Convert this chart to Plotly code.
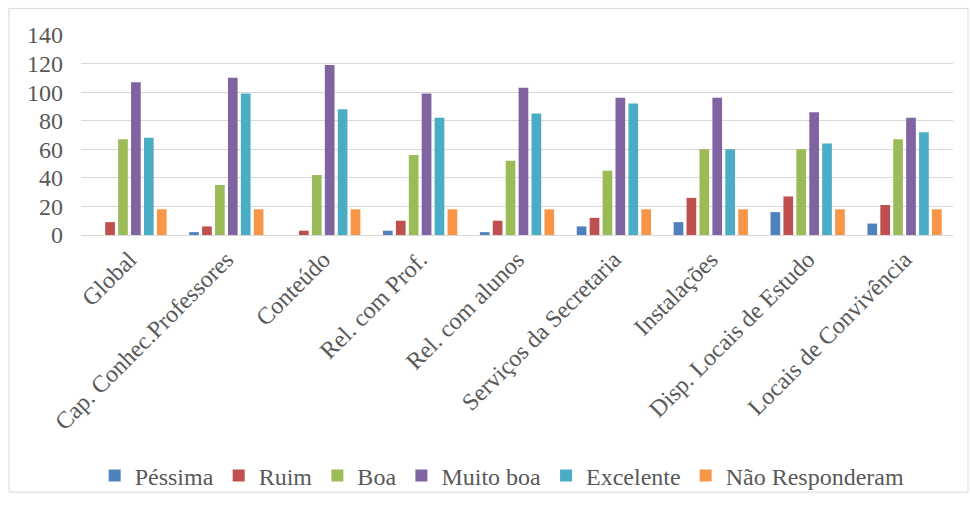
import plotly.graph_objects as go

# Avaliação por item: número de respostas em cada conceito
categorias = [
    "Global",
    "Cap. Conhec.Professores",
    "Conteúdo",
    "Rel. com Prof.",
    "Rel. com alunos",
    "Serviços da Secretaria",
    "Instalações",
    "Disp. Locais de Estudo",
    "Locais de Convivência",
]

pessima = [0, 2, 0, 3, 2, 6, 9, 16, 8]
ruim = [9, 6, 3, 10, 10, 12, 26, 27, 21]
boa = [67, 35, 42, 56, 52, 45, 60, 60, 67]
muito_boa = [107, 110, 119, 99, 103, 96, 96, 86, 82]
excelente = [68, 99, 88, 82, 85, 92, 60, 64, 72]
nao_responderam = [18, 18, 18, 18, 18, 18, 18, 18, 18]

y_ticks = [0, 20, 40, 60, 80, 100, 120, 140]

series = [
    ("Péssima", pessima, "#4F81BD"),
    ("Ruim", ruim, "#C0504D"),
    ("Boa", boa, "#9BBB59"),
    ("Muito boa", muito_boa, "#8064A2"),
    ("Excelente", excelente, "#4BACC6"),
    ("Não Responderam", nao_responderam, "#F79646"),
]

FONT = "'Liberation Serif', 'Times New Roman', serif"
TEXT = "#595959"

fig = go.Figure()
for nome, valores, cor in series:
    fig.add_trace(go.Bar(
        name=nome,
        x=categorias,
        y=valores,
        marker=dict(color=cor, line=dict(width=0)),
    ))

fig.update_layout(
    width=970,
    height=510,
    margin=dict(l=81, r=17, t=35, b=272),
    paper_bgcolor="white",
    plot_bgcolor="white",
    barmode="group",
    bargap=0.2,
    bargroupgap=0.25,
    font=dict(family=FONT, color=TEXT, size=24),
    legend=dict(
        orientation="h",
        x=0.483,
        xanchor="center",
        y=-1.205,
        yanchor="middle",
        bgcolor="rgba(0,0,0,0)",
        font=dict(family=FONT, size=24, color=TEXT),
        itemwidth=30,
        traceorder="normal",
    ),
    xaxis=dict(
        tickangle=-45,
        tickfont=dict(family=FONT, size=24, color=TEXT),
        showgrid=False,
        showline=True,
        linecolor="#d9d9d9",
        linewidth=1,
        ticks="",
    ),
    yaxis=dict(
        range=[0, 140],
        tickvals=y_ticks,
        tickfont=dict(family=FONT, size=24, color=TEXT),
        showgrid=True,
        gridcolor="#d9d9d9",
        gridwidth=1,
        zeroline=False,
        showline=False,
        ticks="",
        ticklabelstandoff=17,
    ),
    shapes=[
        # outer chart frame
        dict(
            type="rect",
            xref="paper", yref="paper",
            x0=(9 - 81) / 872, x1=(968 - 81) / 872,
            y0=(238 - 499) / 203, y1=(238 - 8) / 203,
            line=dict(color="#d9d9d9", width=1),
            fillcolor="rgba(0,0,0,0)",
            layer="below",
        )
    ],
)

fig.write_html("out.html")
